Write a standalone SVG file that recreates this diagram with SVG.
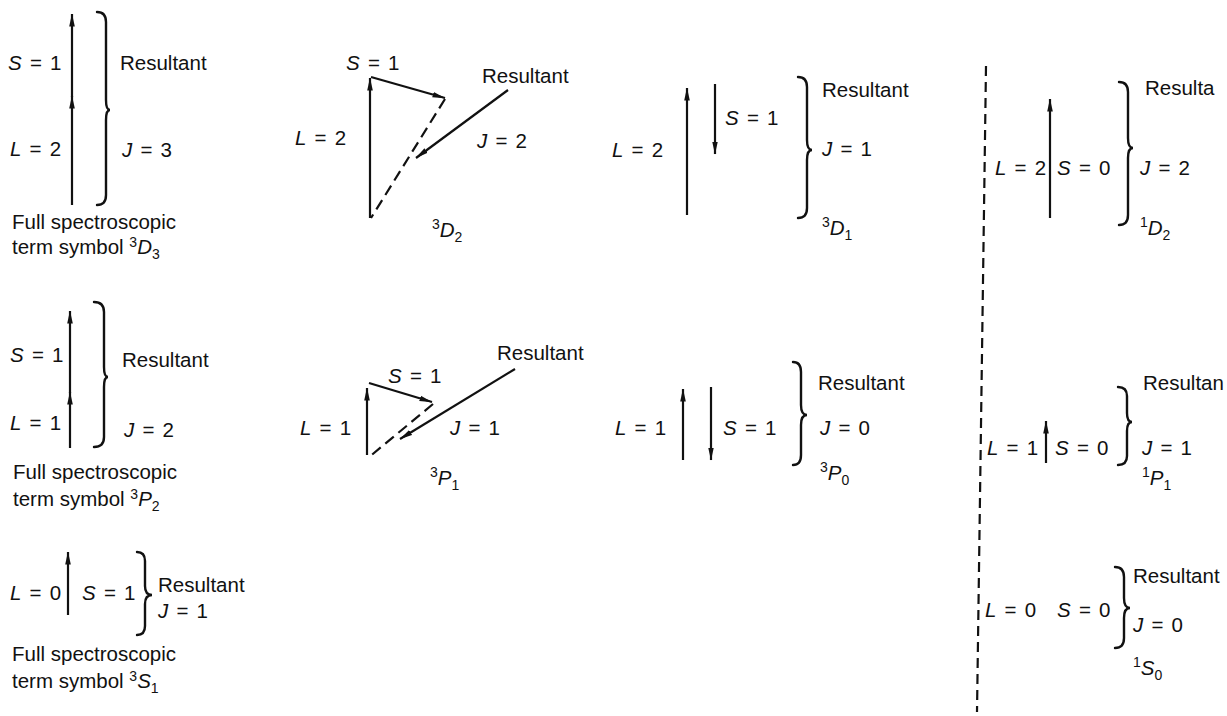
<svg xmlns="http://www.w3.org/2000/svg" width="1227" height="716" viewBox="0 0 1227 716">
<style>
text{font-family:"Liberation Sans",Arial,Helvetica,sans-serif;font-size:20.5px;fill:#111;}
.f{word-spacing:2.5px;}
.i{font-style:italic;}
.sm{font-size:14px;}
.ln{stroke:#111;stroke-width:2;fill:none;}
.ar{stroke:#111;stroke-width:2.2;fill:none;marker-end:url(#ah);}
.ds{stroke:#111;stroke-width:2.2;fill:none;stroke-dasharray:11 6;}
.br{stroke:#111;stroke-width:2.4;fill:none;stroke-linecap:round;}
</style>
<defs>
<marker id="ah" markerWidth="13" markerHeight="7" refX="12.5" refY="3.5" orient="auto" markerUnits="userSpaceOnUse"><path d="M0,0.7 L13,3.5 L0,6.3 z" fill="#111"/></marker>
</defs>
<rect width="1227" height="716" fill="#fff"/>

<g id="connectors">
<line class="ar" x1="72" y1="205" x2="72" y2="96"/>
<line class="ar" x1="72" y1="97" x2="72" y2="14"/>
<line class="ar" x1="370" y1="218" x2="370" y2="78"/>
<line class="ar" x1="371" y1="77" x2="445" y2="98"/>
<line class="ds" x1="445" y1="99" x2="371" y2="218"/>
<line class="ar" x1="508" y1="90" x2="416" y2="158"/>
<line class="ar" x1="687" y1="215" x2="687" y2="88"/>
<line class="ar" x1="715" y1="84" x2="715" y2="154"/>
<line class="ds" x1="986" y1="66" x2="977" y2="712" style="stroke-dasharray:10 6"/>
<line class="ar" x1="1050" y1="218" x2="1050" y2="99"/>
<line class="ar" x1="70" y1="448" x2="70" y2="392"/>
<line class="ar" x1="70" y1="393" x2="70" y2="311"/>
<line class="ar" x1="367" y1="455" x2="367" y2="388"/>
<line class="ar" x1="369" y1="383" x2="432" y2="402"/>
<line class="ds" x1="433" y1="404" x2="368" y2="458"/>
<line class="ar" x1="515" y1="369" x2="400" y2="439"/>
<line class="ar" x1="683" y1="460" x2="683" y2="389"/>
<line class="ar" x1="711" y1="387" x2="711" y2="460"/>
<line class="ar" x1="1046" y1="463" x2="1046" y2="421"/>
<line class="ar" x1="68" y1="615" x2="68" y2="552"/>
</g>

<g id="p3D3">
<text class="f" x="8" y="70"><tspan class="i">S</tspan> = 1</text>
<text class="f" x="10" y="156"><tspan class="i">L</tspan> = 2</text>
<path class="br" d="M97,12 Q106,12 106,22 L106,100 Q106,110 110,110 Q106,110 106,120 L106,195 Q106,205 97,205"/>
<text x="120" y="70">Resultant</text>
<text class="f" x="122" y="157"><tspan class="i">J</tspan> = 3</text>
<text x="12" y="229">Full spectroscopic</text>
<text x="12" y="254">term symbol <tspan class="sm" dy="-7">3</tspan><tspan class="i" dy="7">D</tspan><tspan class="sm" dy="5">3</tspan></text>
</g>

<g id="p3D2">
<text class="f" x="346" y="70"><tspan class="i">S</tspan> = 1</text>
<text x="482" y="83">Resultant</text>
<text class="f" x="295" y="145"><tspan class="i">L</tspan> = 2</text>
<text class="f" x="477" y="148"><tspan class="i">J</tspan> = 2</text>
<text x="432" y="237"><tspan class="sm" dy="-8">3</tspan><tspan class="i" dy="8">D</tspan><tspan class="sm" dy="5">2</tspan></text>
</g>

<g id="p3D1">
<text class="f" x="612" y="157"><tspan class="i">L</tspan> = 2</text>
<text class="f" x="725" y="125"><tspan class="i">S</tspan> = 1</text>
<path class="br" d="M798,77 Q807,77 807,87 L807,140 Q807,150 812,150 Q807,150 807,160 L807,208 Q807,218 798,218"/>
<text x="822" y="97">Resultant</text>
<text class="f" x="822" y="156"><tspan class="i">J</tspan> = 1</text>
<text x="822" y="235"><tspan class="sm" dy="-8">3</tspan><tspan class="i" dy="8">D</tspan><tspan class="sm" dy="5">1</tspan></text>
</g>

<g id="p1D2">
<text class="f" x="995" y="175"><tspan class="i">L</tspan> = 2</text>
<text class="f" x="1057" y="175"><tspan class="i">S</tspan> = 0</text>
<path class="br" d="M1119,82 Q1128,82 1128,92 L1128,138 Q1128,148 1133,148 Q1128,148 1128,158 L1128,215 Q1128,225 1119,225"/>
<text x="1145" y="95">Resulta</text>
<text class="f" x="1140" y="175"><tspan class="i">J</tspan> = 2</text>
<text x="1140" y="235"><tspan class="sm" dy="-8">1</tspan><tspan class="i" dy="8">D</tspan><tspan class="sm" dy="5">2</tspan></text>
</g>

<g id="p3P2">
<text class="f" x="10" y="362"><tspan class="i">S</tspan> = 1</text>
<path class="br" d="M94,302 Q104,302 104,312 L104,367 Q104,377 108,377 Q104,377 104,387 L104,437 Q104,447 94,447"/>
<text x="122" y="367">Resultant</text>
<text class="f" x="10" y="430"><tspan class="i">L</tspan> = 1</text>
<text class="f" x="124" y="437"><tspan class="i">J</tspan> = 2</text>
<text x="13" y="479">Full spectroscopic</text>
<text x="13" y="506">term symbol <tspan class="sm" dy="-7">3</tspan><tspan class="i" dy="7">P</tspan><tspan class="sm" dy="5">2</tspan></text>
</g>

<g id="p3P1">
<text x="497" y="360">Resultant</text>
<text class="f" x="388" y="383"><tspan class="i">S</tspan> = 1</text>
<text class="f" x="300" y="435"><tspan class="i">L</tspan> = 1</text>
<text class="f" x="450" y="435"><tspan class="i">J</tspan> = 1</text>
<text x="430" y="485"><tspan class="sm" dy="-8">3</tspan><tspan class="i" dy="8">P</tspan><tspan class="sm" dy="5">1</tspan></text>
</g>

<g id="p3P0">
<text class="f" x="615" y="435"><tspan class="i">L</tspan> = 1</text>
<text class="f" x="723" y="435"><tspan class="i">S</tspan> = 1</text>
<path class="br" d="M793,362 Q801,362 801,372 L801,405 Q801,415 807,415 Q801,415 801,425 L801,455 Q801,465 793,465"/>
<text x="818" y="390">Resultant</text>
<text class="f" x="820" y="435"><tspan class="i">J</tspan> = 0</text>
<text x="820" y="480"><tspan class="sm" dy="-8">3</tspan><tspan class="i" dy="8">P</tspan><tspan class="sm" dy="5">0</tspan></text>
</g>

<g id="p1P1">
<text class="f" x="987" y="455"><tspan class="i">L</tspan> = 1</text>
<text class="f" x="1055" y="455"><tspan class="i">S</tspan> = 0</text>
<path class="br" d="M1118,387 Q1127,387 1127,396 L1127,413 Q1127,422 1132,422 Q1127,422 1127,431 L1127,456 Q1127,465 1118,465"/>
<text x="1143" y="390">Resultan</text>
<text class="f" x="1142" y="455"><tspan class="i">J</tspan> = 1</text>
<text x="1142" y="485"><tspan class="sm" dy="-8">1</tspan><tspan class="i" dy="8">P</tspan><tspan class="sm" dy="5">1</tspan></text>
</g>

<g id="p3S1">
<text class="f" x="10" y="600"><tspan class="i">L</tspan> = 0</text>
<text class="f" x="82" y="600"><tspan class="i">S</tspan> = 1</text>
<path class="br" d="M137,552 Q145,552 145,561 L145,586 Q145,595 152,595 Q145,595 145,604 L145,626 Q145,635 137,635"/>
<text x="158" y="592">Resultant</text>
<text class="f" x="158" y="618"><tspan class="i">J</tspan> = 1</text>
<text x="12" y="661">Full spectroscopic</text>
<text x="12" y="688">term symbol <tspan class="sm" dy="-7">3</tspan><tspan class="i" dy="7">S</tspan><tspan class="sm" dy="5">1</tspan></text>
</g>

<g id="p1S0">
<text class="f" x="985" y="617"><tspan class="i">L</tspan> = 0</text>
<text class="f" x="1057" y="617"><tspan class="i">S</tspan> = 0</text>
<path class="br" d="M1115,567 Q1124,567 1124,577 L1124,598 Q1124,608 1130,608 Q1124,608 1124,618 L1124,638 Q1124,648 1115,648"/>
<text x="1133" y="583">Resultant</text>
<text class="f" x="1133" y="632"><tspan class="i">J</tspan> = 0</text>
<text x="1133" y="675"><tspan class="sm" dy="-8">1</tspan><tspan class="i" dy="8">S</tspan><tspan class="sm" dy="5">0</tspan></text>
</g>
</svg>
